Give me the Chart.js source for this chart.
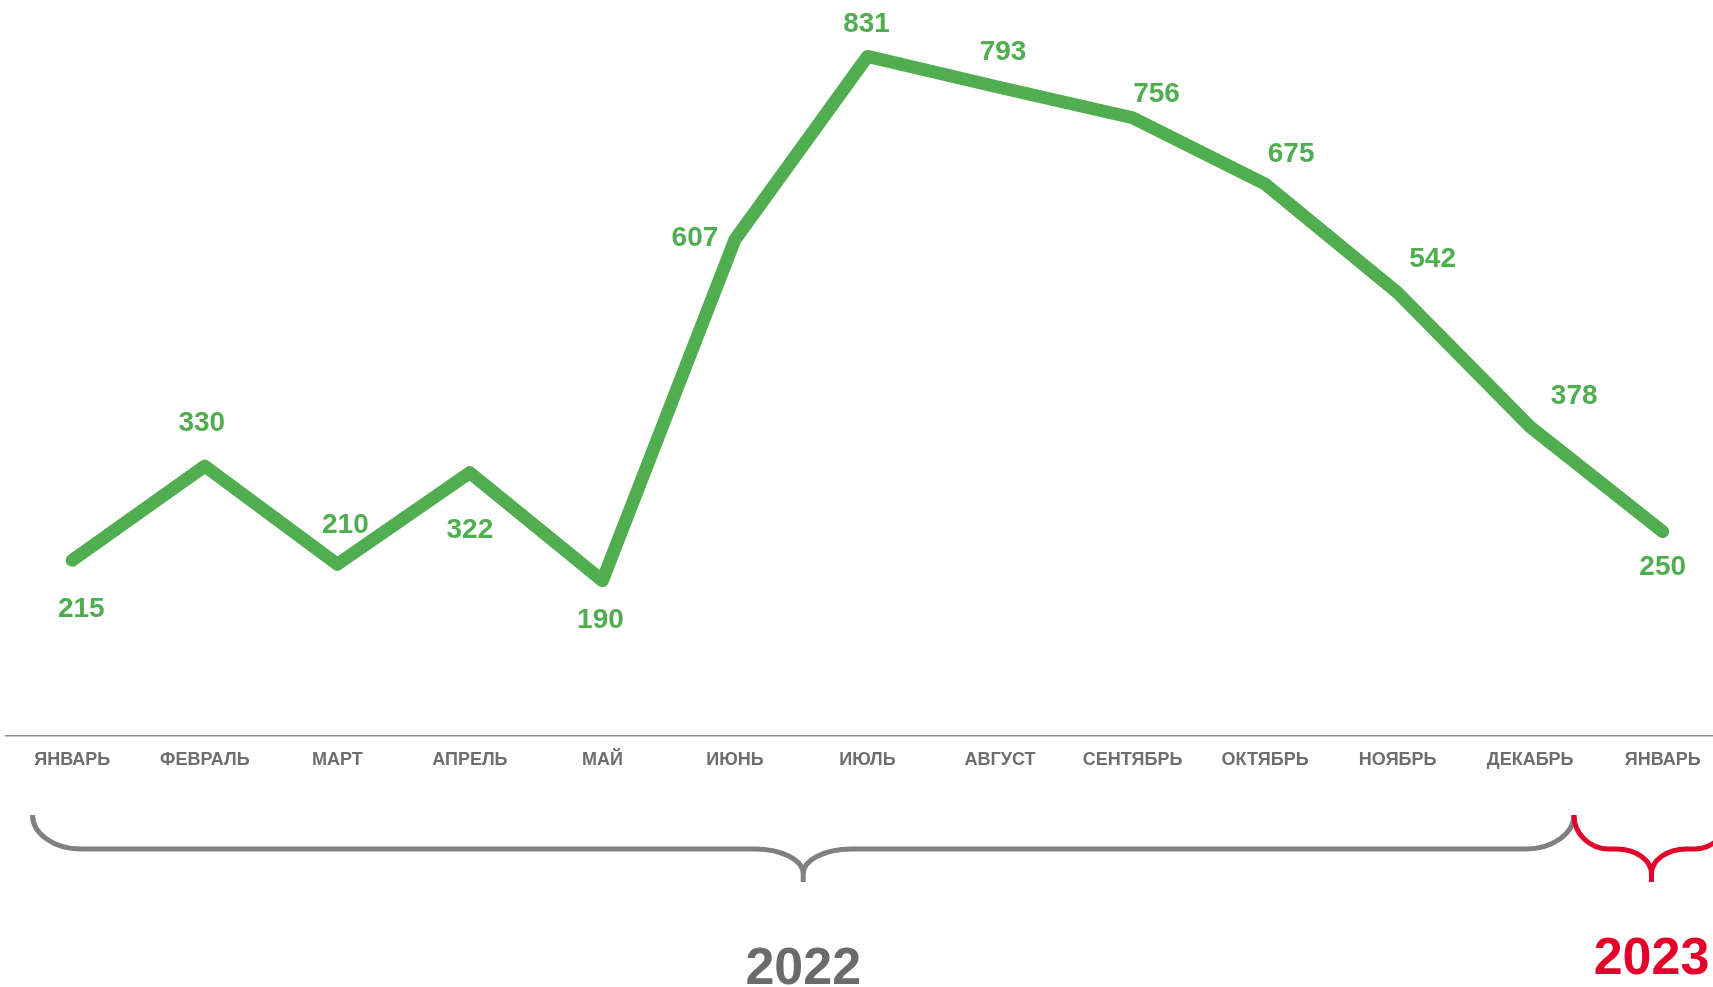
<!DOCTYPE html>
<html>
<head>
<meta charset="utf-8">
<script src="https://cdn.jsdelivr.net/npm/chart.js@4/dist/chart.umd.min.js"></script>
<style>
  html, body { margin: 0; padding: 0; background: #fff; overflow: hidden; }
  #wrap { width: 1730px; height: 987px; }
</style>
</head>
<body>
<div id="wrap"><canvas id="chart" width="1730" height="987"></canvas></div>
<script>
// ================= DATA =================
const months = ["ЯНВАРЬ", "ФЕВРАЛЬ", "МАРТ", "АПРЕЛЬ", "МАЙ", "ИЮНЬ", "ИЮЛЬ",
  "АВГУСТ", "СЕНТЯБРЬ", "ОКТЯБРЬ", "НОЯБРЬ", "ДЕКАБРЬ", "ЯНВАРЬ"];
const values = [215, 330, 210, 322, 190, 607, 831, 793, 756, 675, 542, 378, 250];

const years = ["2022", "2023"];
const yearFirst = [0, 12];
const yearLast = [11, 12];


// ================= STYLE =================
const GREEN = "#50ae50";
const GREY = "#6e6e6e";
const RED = "#e2002b";
const yearColors = ["#808080", RED];
const yearTextColors = ["#6b6b6b", RED];
const yearTextDrop = [102, 92];

// manual nudges of the value labels (px from the point), like in the original
const labelOffsets = [
  [9, 49], [-3, -43], [8, -39], [0, 58], [-2, 40], [-40, -1], [-1, -32],
  [3, -35], [24, -23], [26, -30], [35, -33], [44, -31], [0, 36]
];

Chart.defaults.font.family = "'Liberation Sans', Arial, sans-serif";


// ================= VALUE LABELS =================
const valueLabels = {
  id: "valueLabels",
  afterDatasetsDraw(chart) {
    const ctx = chart.ctx;
    const pts = chart.getDatasetMeta(0).data;
    ctx.save();
    ctx.font = "bold 28px 'Liberation Sans', Arial, sans-serif";
    ctx.fillStyle = GREEN;
    ctx.textAlign = "center";
    ctx.textBaseline = "middle";
    pts.forEach((p, i) => {
      const [dx, dy] = labelOffsets[i];
      ctx.fillText(String(values[i]), p.x + dx, p.y + dy);
    });
    ctx.restore();
  }
};


// ================= YEAR BRACES =================
const yearBraces = {
  id: "yearBraces",
  afterDraw(chart) {
    const ctx = chart.ctx;
    const x = chart.scales.x;
    const base = chart.chartArea.bottom;
    const top = base + 79;
    const mid = base + 113;
    const tip = base + 146;
    const k = 0.5523;

    years.forEach((yr, g) => {
      const from = g === 0 ? yearFirst[g] - 0.3 : yearLast[g - 1] + 0.33;
      const to = g === years.length - 1 ? yearLast[g] + 0.5 : yearLast[g] + 0.33;
      const xl = x.getPixelForValue(from);
      const xr = x.getPixelForValue(to);
      const xc = (xl + xr) / 2;
      const r = Math.min(48, (xc - xl) * 0.45);
      const h1 = mid - top;
      const h2 = tip - mid - 8;

      ctx.save();
      ctx.strokeStyle = yearColors[g];
      ctx.lineWidth = 5;
      ctx.lineCap = "butt";
      ctx.beginPath();
      ctx.moveTo(xl, top);
      ctx.bezierCurveTo(xl, top + k * h1, xl + r * (1 - k), mid, xl + r, mid);
      ctx.lineTo(xc - r, mid);
      ctx.bezierCurveTo(xc - r * (1 - k), mid, xc, mid + h2 * (1 - k), xc, mid + h2);
      ctx.lineTo(xc, tip);
      ctx.moveTo(xc, mid + h2);
      ctx.bezierCurveTo(xc, mid + h2 * (1 - k), xc + r * (1 - k), mid, xc + r, mid);
      ctx.lineTo(xr - r, mid);
      ctx.bezierCurveTo(xr - r * (1 - k), mid, xr, top + k * h1, xr, top);
      ctx.stroke();

      ctx.font = "bold 52px 'Liberation Sans', Arial, sans-serif";
      ctx.fillStyle = yearTextColors[g];
      ctx.textAlign = "center";
      ctx.textBaseline = "alphabetic";
      ctx.fillText(yr, xc, tip + yearTextDrop[g]);
      ctx.restore();
    });
  }
};


// ================= CHART =================
new Chart(document.getElementById("chart"), {
  type: "line",
  data: {
    labels: months,
    datasets: [{
      data: values,
      borderColor: GREEN,
      borderWidth: 13,
      borderJoinStyle: "round",
      borderCapStyle: "round",
      pointRadius: 0,
      tension: 0,
      fill: false
    }]
  },
  options: {
    responsive: false,
    animation: false,
    layout: { padding: { left: 6, right: 1, top: 0, bottom: 0 } },
    plugins: {
      legend: { display: false },
      tooltip: { enabled: false }
    },
    scales: {
      x: {
        offset: true,
        grid: { display: false, drawTicks: false },
        border: { display: true, color: "#8e8e8e", width: 1.5 },
        ticks: {
          color: GREY,
          padding: 13,
          maxRotation: 0,
          autoSkip: false,
          font: { size: 18, weight: "bold" }
        },
        afterFit: s => { s.height = 251; }
      },
      y: {
        display: false,
        min: 0,
        max: 900
      }
    }
  },
  plugins: [valueLabels, yearBraces]
});
</script>
</body>
</html>
